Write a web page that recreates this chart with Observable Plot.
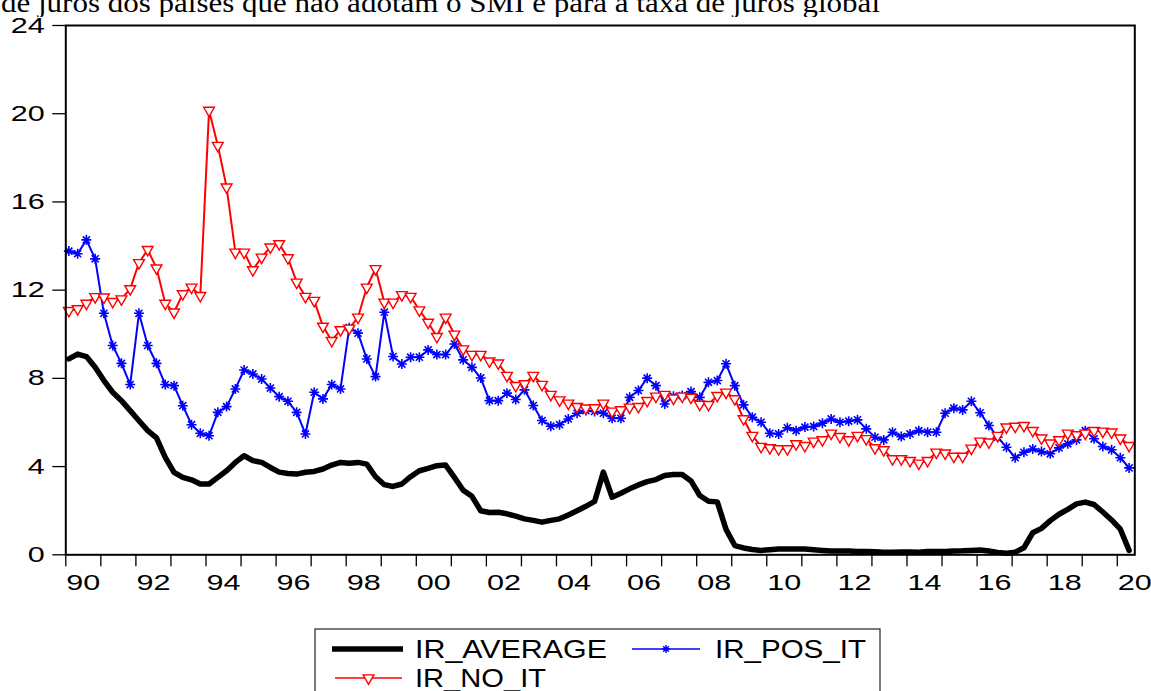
<!DOCTYPE html>
<html>
<head>
<meta charset="utf-8">
<script src="https://cdn.jsdelivr.net/npm/d3@7"></script>
<script src="https://cdn.jsdelivr.net/npm/@observablehq/plot@0.6"></script>
<style>
  html, body { margin: 0; padding: 0; background: #fff; overflow: hidden; }
  #wrap { position: relative; width: 1151px; height: 691px; overflow: hidden;
          font-family: "Liberation Sans", Arial, sans-serif; }
  #wrap > svg { position: absolute; left: 0; }
</style>
</head>
<body>
<div id="wrap"></div>
<script>
// Quarterly interest rates, 1990Q1 – 2020Q2
const firstYear = 1990;

const irAverage = [
  8.88, 9.10, 8.99, 8.50, 7.90, 7.37, 6.99, 6.54, 6.08, 5.63,
  5.30, 4.42, 3.74, 3.51, 3.40, 3.21, 3.21, 3.51, 3.81, 4.19,
  4.49, 4.27, 4.19, 3.96, 3.75, 3.69, 3.66, 3.74, 3.78, 3.89,
  4.07, 4.19, 4.15, 4.19, 4.11, 3.54, 3.18, 3.10, 3.21, 3.54,
  3.81, 3.92, 4.04, 4.07, 3.51, 2.93, 2.65, 2.00, 1.92, 1.93,
  1.86, 1.75, 1.63, 1.56, 1.48, 1.56, 1.63, 1.81, 2.00, 2.20,
  2.42, 3.75, 2.61, 2.79, 2.99, 3.17, 3.32, 3.41, 3.60, 3.64,
  3.64, 3.35, 2.69, 2.43, 2.40, 1.15, 0.42, 0.31, 0.24, 0.20,
  0.23, 0.26, 0.26, 0.26, 0.26, 0.23, 0.20, 0.17, 0.17, 0.17,
  0.15, 0.15, 0.14, 0.12, 0.12, 0.13, 0.13, 0.12, 0.15, 0.15,
  0.15, 0.17, 0.18, 0.20, 0.22, 0.17, 0.11, 0.07, 0.12, 0.32,
  1.00, 1.20, 1.55, 1.84, 2.06, 2.31, 2.39, 2.28, 1.94, 1.58,
  1.16, 0.20
];

const irPosIt = [
  13.77, 13.65, 14.28, 13.42, 10.95, 9.49, 8.68, 7.72, 10.95, 9.49,
  8.68, 7.72, 7.67, 6.76, 5.90, 5.51, 5.40, 6.46, 6.72, 7.52,
  8.38, 8.20, 7.97, 7.56, 7.17, 6.96, 6.46, 5.48, 7.37, 7.07,
  7.72, 7.52, 10.30, 10.05, 8.88, 8.08, 11.00, 8.99, 8.65, 8.96,
  8.96, 9.29, 9.08, 9.08, 9.56, 8.84, 8.50, 8.02, 6.99, 6.99,
  7.33, 7.04, 7.48, 6.77, 6.09, 5.83, 5.90, 6.16, 6.42, 6.54,
  6.50, 6.42, 6.19, 6.19, 7.14, 7.45, 8.01, 7.67, 6.84, 7.19,
  7.22, 7.40, 7.14, 7.82, 7.90, 8.66, 7.67, 6.80, 6.24, 6.01,
  5.51, 5.48, 5.76, 5.63, 5.79, 5.82, 5.97, 6.16, 6.01, 6.06,
  6.12, 5.71, 5.33, 5.21, 5.56, 5.36, 5.48, 5.63, 5.56, 5.56,
  6.42, 6.65, 6.57, 6.96, 6.44, 5.86, 5.33, 4.88, 4.40, 4.65,
  4.80, 4.68, 4.58, 4.85, 5.03, 5.21, 5.63, 5.26, 4.91, 4.76,
  4.40, 3.94
];

const irNoIt = [
  11.07, 11.15, 11.40, 11.70, 11.68, 11.48, 11.60, 12.06, 13.24, 13.84,
  13.00, 11.40, 11.00, 11.83, 12.13, 11.75, 20.15, 18.56, 16.67, 13.72,
  13.72, 12.92, 13.49, 13.95, 14.10, 13.46, 12.36, 11.71, 11.53, 10.36,
  9.71, 10.20, 10.27, 10.77, 12.13, 12.97, 11.45, 11.45, 11.79, 11.71,
  11.10, 10.54, 9.89, 10.77, 10.00, 9.33, 9.08, 9.08, 8.78, 8.69,
  8.13, 7.67, 7.75, 8.13, 7.72, 7.27, 7.02, 6.87, 6.72, 6.65,
  6.66, 6.87, 6.51, 6.57, 6.69, 6.72, 6.99, 7.19, 7.27, 7.10,
  7.19, 7.14, 6.82, 6.81, 7.22, 7.37, 7.07, 6.16, 5.41, 4.91,
  4.85, 4.80, 4.80, 5.03, 4.95, 5.15, 5.21, 5.51, 5.36, 5.21,
  5.41, 5.26, 4.85, 4.76, 4.35, 4.35, 4.27, 4.15, 4.27, 4.65,
  4.61, 4.46, 4.46, 4.83, 5.15, 5.11, 5.41, 5.79, 5.82, 5.86,
  5.63, 5.29, 5.06, 5.21, 5.51, 5.44, 5.51, 5.63, 5.60, 5.56,
  5.29, 4.95
];

const yTicks = [0, 4, 8, 12, 16, 20, 24];
const yearTicks = d3.range(1990, 2021);
const yearLabelYears = d3.range(1990, 2021, 2);
const seriesNames = ["IR_AVERAGE", "IR_POS_IT", "IR_NO_IT"];
const titleText = "de juros dos países que não adotam o SMI e para a taxa de juros global";

// each observation sits a little after the start of its quarter
const rows = irAverage.map((v, i) => ({
  t: firstYear + (i + 0.35) / 4,
  avg: v,
  pos: irPosIt[i],
  no: irNoIt[i]
}));

// eight-armed asterisk marker
const star8 = {
  draw(ctx, size) {
    const r = Math.sqrt(size / Math.PI);
    for (const a of [0, Math.PI / 4, Math.PI / 2, 3 * Math.PI / 4]) {
      const dx = r * Math.cos(a), dy = r * Math.sin(a);
      ctx.moveTo(dx, dy);
      ctx.lineTo(-dx, -dy);
    }
  }
};

// downward-pointing triangle marker
const triDown = {
  draw(ctx, size) {
    const r = Math.sqrt(size / Math.PI);
    const w = r * 1.35, h = r * 2.35;
    ctx.moveTo(-w, -h / 3);
    ctx.lineTo(w, -h / 3);
    ctx.lineTo(0, 2 * h / 3);
    ctx.closePath();
  }
};

const colors = { avg: "#000000", pos: "#0000ff", no: "#ff0000" };
const fontFamily = "'Liberation Sans', Arial, sans-serif";

const svgHeight = 623;
const chart = Plot.plot({
  width: 1151,
  height: svgHeight,
  marginTop: 25,
  marginLeft: 65.3,
  marginRight: 16.7,
  marginBottom: svgHeight - 554.3,
  style: { fontFamily, background: "white", color: "black" },
  x: { domain: [1990, 2020.5] },
  y: { domain: [0, 24] },
  marks: [
    Plot.axisY(yTicks, { tickSize: 13, tickPadding: 8, fontSize: 22, label: null, strokeWidth: 1.3 }),
    Plot.axisX(yearTicks, { tickSize: 12, tickFormat: () => "", label: null, strokeWidth: 1.3 }),
    Plot.axisX(yearLabelYears.map((y) => y + 0.5), {
      tickSize: 0, tickPadding: 20, fontSize: 22, label: null,
      tickFormat: (d) => String(Math.floor(d)).slice(2)
    }),
    Plot.line(rows, { x: "t", y: "avg", stroke: colors.avg, strokeWidth: 5.5, strokeLinejoin: "round" }),
    Plot.line(rows, { x: "t", y: "pos", stroke: colors.pos, strokeWidth: 2 }),
    Plot.dot(rows, { x: "t", y: "pos", symbol: star8, r: 5, stroke: colors.pos, fill: "none", strokeWidth: 1.6 }),
    Plot.line(rows, { x: "t", y: "no", stroke: colors.no, strokeWidth: 2 }),
    Plot.dot(rows, { x: "t", y: "no", symbol: triDown, r: 4, stroke: colors.no, fill: "white", strokeWidth: 1.4 }),
    Plot.frame({ stroke: "black", strokeWidth: 2 })
  ]
});

// widen the tick-label glyphs
chart.querySelectorAll('g[aria-label="y-axis tick label"] text, g[aria-label="x-axis tick label"] text')
  .forEach((t) => {
    const s = t.textContent;
    if (s) {
      t.setAttribute("textLength", 17 * s.length);
      t.setAttribute("lengthAdjust", "spacingAndGlyphs");
    }
  });
chart.style.top = "0px";

const wrap = document.getElementById("wrap");
const NS = "http://www.w3.org/2000/svg";
function el(name, attrs, parent) {
  const e = document.createElementNS(NS, name);
  for (const k in attrs) e.setAttribute(k, attrs[k]);
  if (parent) parent.appendChild(e);
  return e;
}

wrap.appendChild(chart);

// title line above the chart (top of it runs off the page)
const titleSvg = el("svg", { width: 1151, height: 17 });
titleSvg.style.top = "0px";
const title = el("text", {
  x: 1, y: 11.5, "font-family": "'Liberation Serif', 'Times New Roman', serif", "font-size": 27,
  textLength: 879, lengthAdjust: "spacingAndGlyphs", fill: "black"
}, titleSvg);
title.textContent = titleText;
wrap.appendChild(titleSvg);

// legend
const legend = el("svg", { width: 570, height: 80 });
legend.style.top = "628px";
legend.style.left = "314px";
el("rect", { x: 1, y: 1, width: 565, height: 90, fill: "white", stroke: "#222", "stroke-width": 1.2 }, legend);
const items = [
  { name: seriesNames[0], x0: 18, x1: 89, y: 21, tx: 101, tw: 192, color: colors.avg, width: 5.5, marker: null },
  { name: seriesNames[1], x0: 318, x1: 386, y: 21, tx: 401, tw: 151, color: colors.pos, width: 1.6, marker: "star" },
  { name: seriesNames[2], x0: 21, x1: 88, y: 50, tx: 101, tw: 131, color: colors.no, width: 1.6, marker: "tri" }
];
for (const it of items) {
  el("line", { x1: it.x0, x2: it.x1, y1: it.y, y2: it.y, stroke: it.color, "stroke-width": it.width }, legend);
  const cx = (it.x0 + it.x1) / 2;
  if (it.marker === "star") {
    const p = d3.path(); star8.draw(p, Math.PI * 16);
    el("path", { d: p.toString(), transform: `translate(${cx},${it.y})`, stroke: it.color, fill: "none", "stroke-width": 1.4 }, legend);
  } else if (it.marker === "tri") {
    const p = d3.path(); triDown.draw(p, Math.PI * 16);
    el("path", { d: p.toString(), transform: `translate(${cx},${it.y})`, stroke: it.color, fill: "white", "stroke-width": 1.4 }, legend);
  }
  const t = el("text", {
    x: it.tx, y: it.y + 9, "font-family": fontFamily, "font-size": 25,
    textLength: it.tw, lengthAdjust: "spacingAndGlyphs", fill: "black"
  }, legend);
  t.textContent = it.name;
}
wrap.appendChild(legend);
</script>
</body>
</html>
